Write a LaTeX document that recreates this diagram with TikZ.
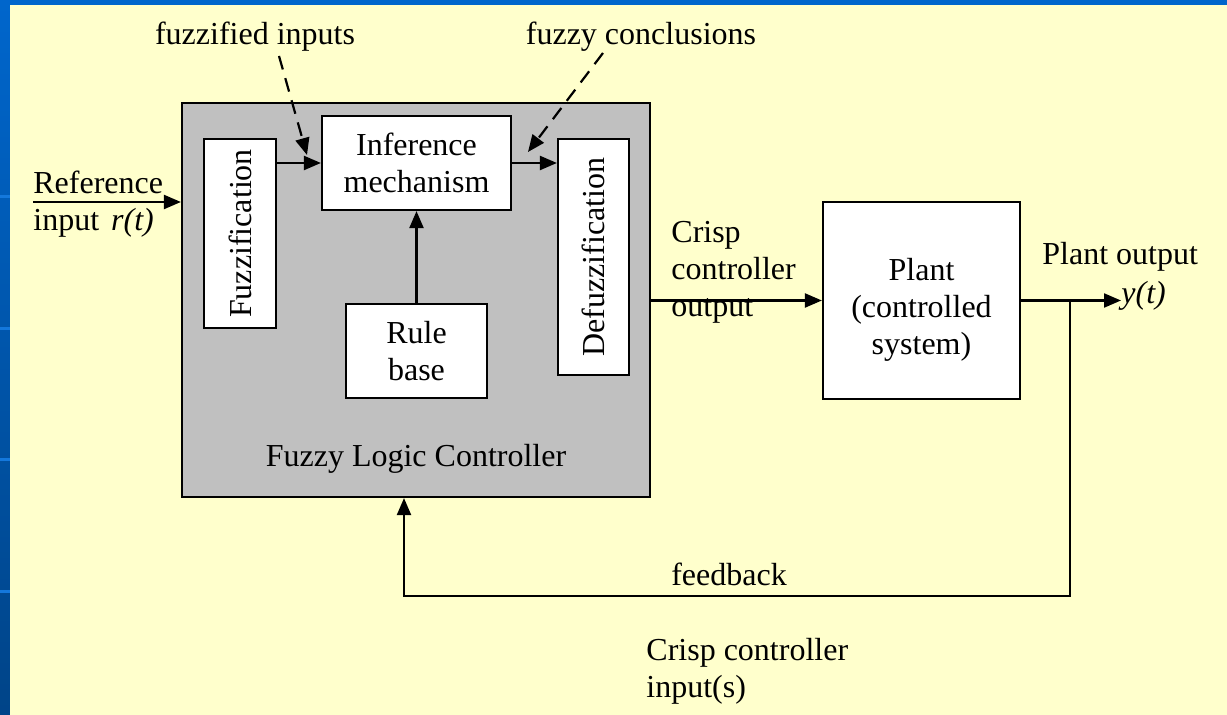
\documentclass[tikz,border=0pt]{standalone}
\usepackage{fontspec}
\setmainfont{Liberation Serif}
\usetikzlibrary{arrows.meta}
\definecolor{slideblue}{RGB}{0,102,204}
\definecolor{slidebluedark}{RGB}{0,68,136}
\definecolor{slidelight}{RGB}{20,120,220}
\definecolor{paper}{RGB}{255,255,204}
\definecolor{flcgray}{RGB}{192,192,192}
\tikzset{
  px/.style={x=0.5pt,y=-0.5pt},
  blockbox/.style={draw=black,line width=1.1pt,fill=white,inner sep=0pt,align=center},
  txt/.style={inner sep=0pt,font=\fontsize{16}{18.5}\selectfont},
  conn/.style={line width=1.1pt,-{Triangle[length=8.5pt,width=7pt]}},
  dashconn/.style={line width=1.1pt,dash pattern=on 7pt off 4.5pt,-{Triangle[length=8.5pt,width=7pt]}}
}
\begin{document}
\begin{tikzpicture}[px]
\useasboundingbox (0,0) rectangle (1227,715);
% slide background
\fill[slideblue] (0,0) rectangle (1227,715);
\shade[top color=slideblue,bottom color=slidebluedark] (0,0) rectangle (10,715);
\foreach \yy in {195,327,458,590}{\fill[slidelight] (0,\yy) rectangle (10,\yy+3);}
\fill[paper] (10,5) rectangle (1227,715);

\begin{scope}[font=\fontsize{16}{18.5}\selectfont]
% Fuzzy logic controller box
\node[draw=black,line width=1.1pt,fill=flcgray,inner sep=0pt,minimum width=234pt,minimum height=197pt] (flc) at (416,300) {};
\node[txt,anchor=base] (flclabel) at (416,467) {Fuzzy Logic Controller};

% inner blocks
\node[blockbox,minimum width=36pt,minimum height=94.5pt] (fuzz) at (240,233.5) {\rotatebox{90}{Fuzzification}};
\node[blockbox,minimum width=94.5pt,minimum height=47pt] (inf) at (416.5,163) {Inference\\mechanism};
\node[blockbox,minimum width=70.5pt,minimum height=47pt] (rule) at (416.5,351) {Rule\\base};
\node[blockbox,minimum width=35.5pt,minimum height=118pt] (defuzz) at (593.5,257) {\rotatebox{90}{Defuzzification}};
\node[blockbox,minimum width=98.5pt,minimum height=98.5pt,text height=57.5pt,text depth=3.5pt] (plant) at (921.5,300.5) {Plant\\(controlled\\system)};

% labels
\node[txt,anchor=base] (fuzzlbl) at (255,45) {fuzzified inputs};
\node[txt,anchor=base] (conclbl) at (641,45) {fuzzy conclusions};
\node[txt,anchor=west,align=left] (reflbl) at (33,204) {Reference\\input\hspace{6pt}\textit{r(t)}};
\node[txt,anchor=west,align=left] (crispout) at (671,272) {Crisp\\controller\\output};
\node[txt,anchor=base west] (plantout) at (1042,265) {Plant output};
\node[txt,anchor=base west] (ylbl) at (1121,304) {\textit{y(t)}};
\node[txt,anchor=base] (fblbl) at (729,586) {feedback};
\node[txt,anchor=west,align=left] (crispin) at (646,671) {Crisp controller\\input(s)};

% coordinates
\coordinate (refstart) at (33,202);
\coordinate (d1s) at (279,56);
\coordinate (d1e) at (307,155);
\coordinate (d2s) at (603,53);
\coordinate (d2e) at (528,152);
\coordinate (branch) at (1070,300);
\coordinate (fbcorner) at (1070,596);
\coordinate (fbleft) at (404,596);

% connectors
\draw[conn] (refstart) -- (refstart -| flc.west);
\draw[conn] (fuzz.east |- inf.west) -- (inf.west);
\draw[conn] (inf.east) -- (inf.east -| defuzz.west);
\draw[conn] (rule.north) -- (inf.south);
\draw[conn] (flc.east |- plant.west) -- (plant.west);
\draw[conn] (plant.east) -- (ylbl.west |- plant.east);
\draw[conn] (branch) -- (fbcorner) -- (fbleft) -- (fbleft |- flc.south);
\draw[dashconn] (d1s) -- (d1e);
\draw[dashconn] (d2s) -- (d2e);
\end{scope}
\end{tikzpicture}
\end{document}
